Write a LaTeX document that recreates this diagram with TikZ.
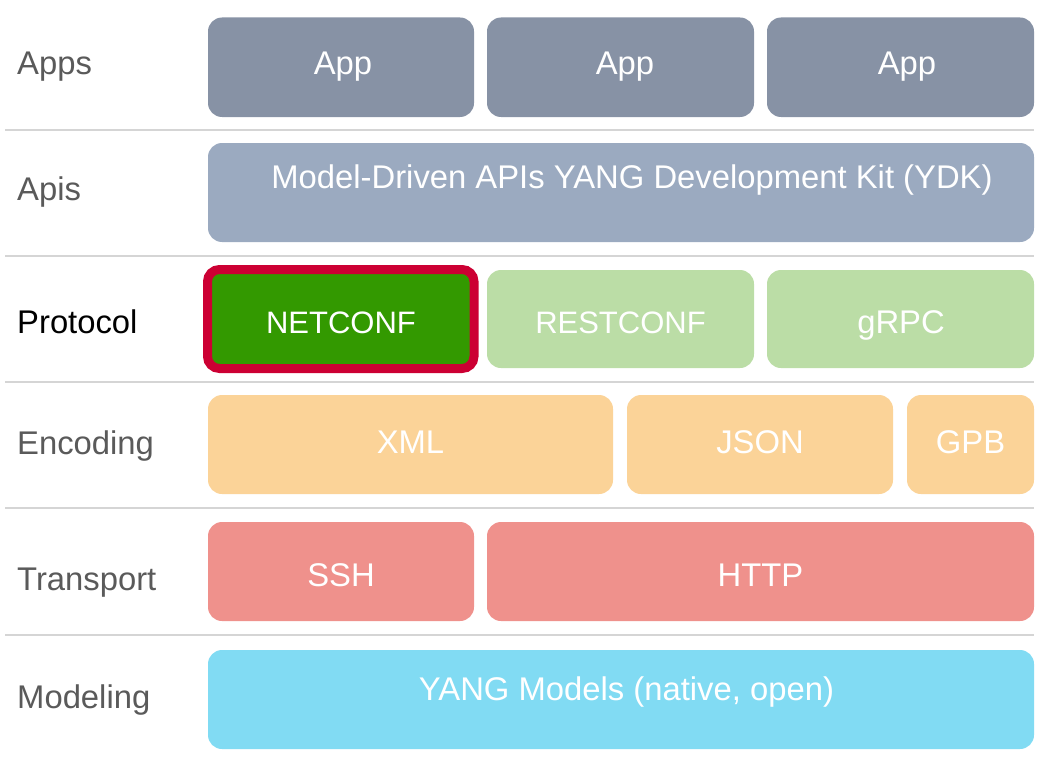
\documentclass[tikz,border=0pt]{standalone}
\usepackage{fontspec}
\setmainfont{Liberation Sans}
\definecolor{appc}{HTML}{8792A5}
\definecolor{apic}{HTML}{9BAAC0}
\definecolor{netc}{HTML}{339900}
\definecolor{redc}{HTML}{CC0033}
\definecolor{protc}{HTML}{BBDDA6}
\definecolor{encc}{HTML}{FBD398}
\definecolor{trc}{HTML}{EF918C}
\definecolor{modc}{HTML}{81DBF3}
\definecolor{labc}{HTML}{5A5A5A}
\definecolor{sepc}{HTML}{D5D5D5}
\tikzset{
  layerbox/.style={rectangle, rounded corners=14pt, inner sep=0pt, draw=none},
  boxtext/.style={anchor=base, text=white, inner sep=0pt, font=\fontsize{32.8}{38}\selectfont},
  caps/.style={font=\fontsize{31}{38}\selectfont},
  rowlabel/.style={anchor=base west, text=labc, inner sep=0pt, font=\fontsize{32.8}{38}\selectfont},
  sepline/.style={draw=sepc, line width=2pt},
}
\newcommand{\lbox}[6]{%
  \path[layerbox, fill=#5] (#2,#3) rectangle (#4,#6) node[pos=0.5, inner sep=0pt] (#1) {};}
\begin{document}
\begin{tikzpicture}[x=1pt,y=-1pt]
\useasboundingbox (0,0) rectangle (1048,781);
% separators
\foreach \yy/\nm in {129.5/s1,256/s2,382/s3,508/s4,635/s5}{
  \coordinate (\nm a) at (5,\yy);
  \coordinate (\nm b) at (1034,\yy);
  \draw[sepline] (\nm a) -- (\nm b);
}
% row labels
\node[rowlabel] (lapps) at (17,75) {Apps};
\node[rowlabel] (lapis) at (17,200) {Apis};
\node[rowlabel, text=black] (lprot) at (17,333) {Protocol};
\node[rowlabel] (lenc) at (17,454) {Encoding};
\node[rowlabel] (ltr) at (17,590) {Transport};
\node[rowlabel] (lmod) at (17,708) {Modeling};
% apps
\lbox{app1}{208}{17.5}{474}{appc}{117}
\lbox{app2}{487}{17.5}{754}{appc}{117}
\lbox{app3}{767}{17.5}{1034}{appc}{117}
\node[boxtext] (tapp1) at (343,75) {App};
\node[boxtext] (tapp2) at (625,75) {App};
\node[boxtext] (tapp3) at (907,75) {App};
% apis
\lbox{apis}{208}{143}{1034}{apic}{242}
\node[boxtext] (tapis) at (632,188) {Model-Driven APIs YANG Development Kit (YDK)};
% protocol
\path[layerbox, fill=netc, draw=redc, line width=9pt, rounded corners=12pt] (207.5,269.5) rectangle (474,368.5) node[pos=0.5, inner sep=0pt] (netconf) {};
\lbox{restconf}{487}{270}{754}{protc}{368}
\lbox{grpc}{767}{270}{1034}{protc}{368}
\node[boxtext, caps] (tnet) at (341,333) {NETCONF};
\node[boxtext, caps] (trest) at (620.5,333) {RESTCONF};
\node[boxtext] (tgrpc) at (901,333) {gRPC};
% encoding
\lbox{xml}{208}{395}{613}{encc}{494}
\lbox{json}{627}{395}{893}{encc}{494}
\lbox{gpb}{907}{395}{1034}{encc}{494}
\node[boxtext] (txml) at (410.5,453) {XML};
\node[boxtext] (tjson) at (760,453) {JSON};
\node[boxtext] (tgpb) at (970.5,453) {GPB};
% transport
\lbox{ssh}{208}{522}{474}{trc}{621}
\lbox{http}{487}{522}{1034}{trc}{621}
\node[boxtext] (tssh) at (341,586) {SSH};
\node[boxtext] (thttp) at (760.5,586) {HTTP};
% modeling
\lbox{yang}{208}{650}{1034}{modc}{749}
\node[boxtext] (tyang) at (626.5,700.5) {YANG Models (native, open)};
\end{tikzpicture}
\end{document}
